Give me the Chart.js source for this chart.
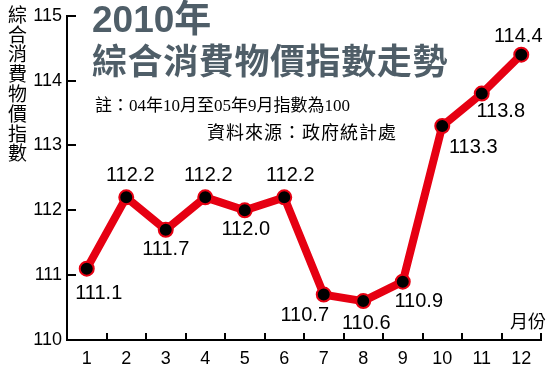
<!DOCTYPE html>
<html>
<head>
<meta charset="utf-8">
<script src="https://cdn.jsdelivr.net/npm/chart.js@4.4.1/dist/chart.umd.min.js"></script>
<style>
  body { margin: 0; background: #fff; }
  #wrap { position: relative; width: 550px; height: 366px; overflow: hidden; background: #fff; }
  #wrap canvas { position: absolute; left: 0; top: 0; }
  .t { position: absolute; white-space: nowrap; line-height: 1; color: #000; }
  #yTitle {
    left: 8px; top: 5px; font-size: 19px; letter-spacing: 0.8px;
    writing-mode: vertical-rl; text-orientation: upright;
    font-family: "Noto Sans CJK TC", sans-serif;
  }
  #title1 {
    left: 92px; top: 1px; font-size: 37px; font-weight: 700; color: #4f5e68;
    font-family: "Liberation Sans", "Noto Sans CJK TC", sans-serif;
  }
  #title2 {
    left: 92px; top: 41px; font-size: 35px; font-weight: 700; color: #4f5e68;
    letter-spacing: 0.6px; font-family: "Noto Sans CJK TC", sans-serif;
  }
  #note {
    left: 95px; top: 97px; font-size: 17px;
    font-family: "Liberation Serif", "Noto Sans CJK TC", serif;
  }
  #source {
    left: 207px; top: 122px; font-size: 18px; letter-spacing: 1px;
    font-family: "Noto Sans CJK TC", sans-serif;
  }
  #unit {
    left: 510px; top: 311px; font-size: 18px;
    font-family: "Noto Sans CJK TC", sans-serif;
  }
</style>
</head>
<body>
<div id="wrap">
  <canvas id="chart" width="550" height="366"></canvas>
  <div class="t" id="yTitle">綜合消費物價指數</div>
  <div class="t" id="title1">2010年</div>
  <div class="t" id="title2">綜合消費物價指數走勢</div>
  <div class="t" id="note">註：04年10月至05年9月指數為100</div>
  <div class="t" id="source">資料來源：政府統計處</div>
  <div class="t" id="unit">月份</div>
</div>
<script>
// ── data ────────────────────────────────────────────────────────────────
var months = ["1", "2", "3", "4", "5", "6", "7", "8", "9", "10", "11", "12"];
var cpi    = [111.1, 112.2, 111.7, 112.2, 112.0, 112.2, 110.7, 110.6, 110.9, 113.3, 113.8, 114.4];
var yTicks = [110, 111, 112, 113, 114, 115];

// value-label offsets from each point (px), placed like the print graphic
var labelOffsets = [
  [12, 25], [4, -22], [0, 20], [3, -22], [1, 19], [6, -22],
  [-19, 21], [3, 22], [16, 20], [31, 21], [19, 18], [-3, -18]
];

var RED = "#e60012";
var FONT = '"Liberation Sans", Arial, sans-serif';

// Short tick marks drawn inside the plot, from the scales themselves.
var innerTicks = {
  id: "innerTicks",
  afterDraw: function(chart) {
    var ctx = chart.ctx, x = chart.scales.x, y = chart.scales.y;
    ctx.save();
    ctx.strokeStyle = "#000";
    ctx.lineWidth = 2;
    ctx.beginPath();
    var half = (x.getPixelForValue(1) - x.getPixelForValue(0)) / 2;
    for (var i = 0; i < months.length; i++) {
      var px = Math.round(x.getPixelForValue(i) + half);
      ctx.moveTo(px, y.bottom);
      ctx.lineTo(px, y.bottom - 7);
    }
    yTicks.forEach(function(v) {
      if (v === y.min) return;
      var py = Math.round(y.getPixelForValue(v));
      ctx.moveTo(x.left, py);
      ctx.lineTo(x.left + 9, py);
    });
    ctx.stroke();
    ctx.restore();
  }
};

// Value labels next to each point.
var valueLabels = {
  id: "valueLabels",
  afterDatasetsDraw: function(chart) {
    var ctx = chart.ctx;
    var meta = chart.getDatasetMeta(0);
    ctx.save();
    ctx.fillStyle = "#000";
    ctx.font = "20px " + FONT;
    ctx.textAlign = "center";
    ctx.textBaseline = "middle";
    meta.data.forEach(function(pt, i) {
      var off = labelOffsets[i];
      ctx.fillText(cpi[i].toFixed(1), pt.x + off[0], pt.y + off[1]);
    });
    ctx.restore();
  }
};

new Chart(document.getElementById("chart"), {
  type: "line",
  data: {
    labels: months,
    datasets: [{
      data: cpi,
      borderColor: RED,
      borderWidth: 8,
      tension: 0,
      pointRadius: 7,
      pointBackgroundColor: "#000",
      pointBorderColor: RED,
      pointBorderWidth: 2
    }]
  },
  options: {
    responsive: false,
    animation: false,
    events: [],
    layout: { padding: { top: 10, right: 3, left: 0, bottom: 0 } },
    plugins: { legend: { display: false }, tooltip: { enabled: false } },
    scales: {
      x: {
        type: "category",
        offset: true,
        grid: { display: false, drawTicks: false },
        border: { display: true, color: "#000", width: 2 },
        ticks: { color: "#000", padding: 8, font: { size: 18, family: FONT } },
        afterFit: function(s) { s.height = 26; }
      },
      y: {
        min: 110,
        max: 115,
        afterBuildTicks: function(s) { s.ticks = yTicks.map(function(v) { return { value: v }; }); },
        grid: { display: false, drawTicks: false },
        border: { display: true, color: "#000", width: 2 },
        ticks: { color: "#000", padding: 5, font: { size: 18, family: FONT } },
        afterFit: function(s) { s.width = 67; }
      }
    }
  },
  plugins: [innerTicks, valueLabels]
});
</script>
</body>
</html>
